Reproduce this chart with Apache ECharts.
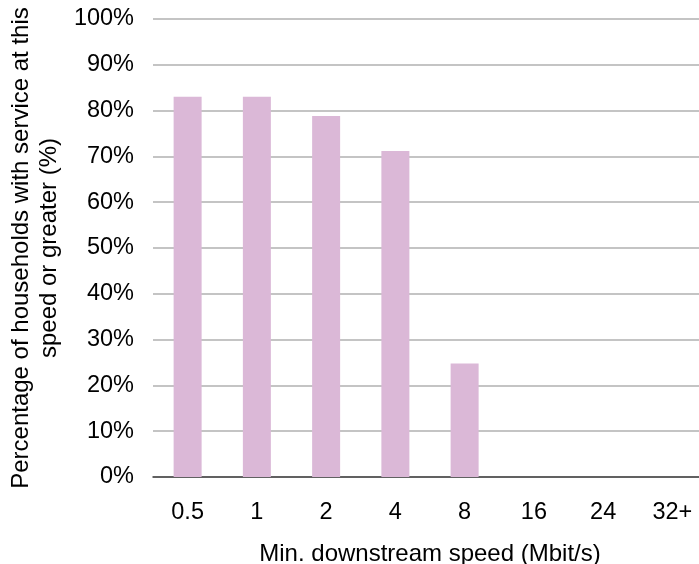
<!DOCTYPE html>
<html>
<head>
<meta charset="utf-8">
<script src="https://cdn.jsdelivr.net/npm/echarts@6/dist/echarts.min.js"></script>
<style>
  html, body { margin: 0; padding: 0; background: #ffffff; }
  #chart { width: 699px; height: 564px; }
</style>
</head>
<body>
<div id="chart"></div>
<script>
// Minimum downstream speed tiers (Mbit/s)
const speedTiers = ['0.5', '1', '2', '4', '8', '16', '24', '32+'];
// Share of households with service at or above each tier (%)
const householdShare = [83.0, 83.0, 78.8, 71.2, 24.8, 0, 0, 0];
// Value-axis range and step (%)
const axisMin = 0;
const axisMax = 100;
const axisStep = 10;

const FONT = '"Liberation Sans", Arial, sans-serif';
const chart = echarts.init(document.getElementById('chart'), null, { renderer: 'canvas' });

chart.setOption({
  animation: false,
  backgroundColor: '#ffffff',
  // fixed plot rectangle; the category band runs slightly past the right edge of the canvas
  grid: {
    left: 153, right: -8, top: 19, bottom: 87,
    containLabel: false,
    outerBoundsMode: 'none'
  },
  xAxis: {
    type: 'category',
    data: speedTiers,
    name: 'Min. downstream speed (Mbit/s)',
    nameLocation: 'middle',
    nameGap: 65,
    nameTextStyle: { fontFamily: FONT, fontSize: 24, color: '#000000' },
    axisLine: { show: true, lineStyle: { color: '#404040', width: 1.5 } },
    axisTick: { show: false },
    axisLabel: { margin: 23.5, fontFamily: FONT, fontSize: 23.5, color: '#000000' },
    splitLine: { show: false }
  },
  yAxis: {
    type: 'value',
    min: axisMin,
    max: axisMax,
    interval: axisStep,
    name: 'Percentage of households with service at this\nspeed or greater (%)',
    nameLocation: 'middle',
    nameGap: 88.5,
    nameTextStyle: { fontFamily: FONT, fontSize: 24, lineHeight: 28, color: '#000000', align: 'center' },
    axisLine: { show: false },
    axisTick: { show: false },
    axisLabel: { margin: 19, fontFamily: FONT, fontSize: 23.5, color: '#000000', formatter: '{value}%' },
    splitLine: { show: true, lineStyle: { color: '#C4C4C4', width: 2 } }
  },
  series: [{
    type: 'bar',
    data: householdShare,
    barWidth: 28,
    itemStyle: { color: '#DBB8D7' }
  }]
});
</script>
</body>
</html>
